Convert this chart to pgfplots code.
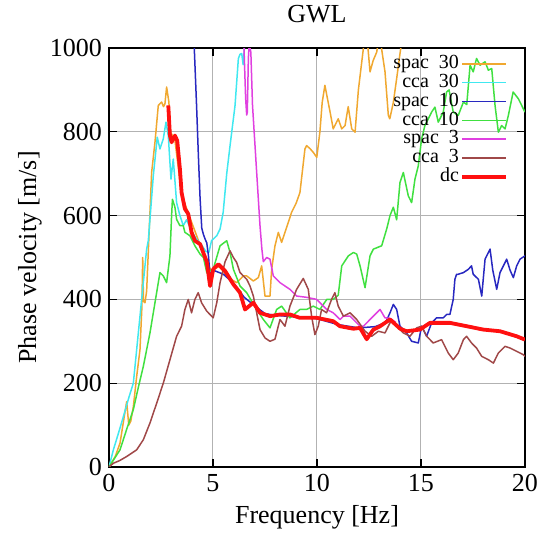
\documentclass[border=0pt]{standalone}
\usepackage{fontspec}
\setmainfont{Liberation Serif}
\usepackage{pgfplots}
\pgfplotsset{compat=1.18}

\definecolor{cspacA}{HTML}{F0A830}
\definecolor{ccca}{HTML}{40E8F0}
\definecolor{cspacB}{HTML}{2828C0}
\definecolor{cccaB}{HTML}{40E040}
\definecolor{cspacC}{HTML}{E040E0}
\definecolor{cccaC}{HTML}{A04848}
\definecolor{cdc}{HTML}{FF1010}

\begin{document}
\begin{tikzpicture}
\useasboundingbox (-54.5pt,-34.5pt) rectangle (222pt,233.5pt);
\begin{axis}[
  at={(0,0)}, anchor=south west,
  scale only axis,
  width=208pt, height=209.5pt,
  xmin=0, xmax=20, ymin=0, ymax=1000,
  xtick={0,5,10,15,20},
  ytick={0,200,400,600,800,1000},
  tick align=inside,
  major tick length=4pt,
  tick style={black, line width=0.6pt},
  grid=major,
  grid style={gray!60, line width=0.5pt},
  axis line style={black, line width=0.8pt},
  /pgf/number format/assume math mode=true,
  /pgf/number format/1000 sep={},
  ticklabel style={font=\fontsize{13}{15}\selectfont},
  label style={font=\fontsize{13}{15}\selectfont},
  xlabel={Frequency [Hz]},
  ylabel={Phase velocity [m/s]},
  xlabel style={at={(axis description cs:0.5,-0.12)}, anchor=center},
  ylabel style={at={(axis description cs:-0.19,0.5)}, anchor=center, rotate=0},
  title={GWL},
  every axis title shift=0pt,
  title style={at={(axis description cs:0.5,1.081)}, anchor=center, font=\fontsize{13}{15}\selectfont},
  legend plot pos=right,
  legend cell align=right,
  legend image code/.code={\draw[#1] (0pt,0pt) -- (22pt,0pt);},
  legend style={draw=none, fill=none, at={(axis description cs:0.96,0.985)}, anchor=north east,
    font=\fontsize{10}{11}\selectfont, row sep=0.2pt, inner sep=0pt,
    nodes={inner sep=0.6pt, text height=6.4pt, text depth=1.6pt}},
  every axis plot/.append style={line join=round},
]
% spac 30
\addplot[cspacA, line width=0.75pt] coordinates {
(0,0) (0.3,25) (0.53,57) (0.7,110) (0.85,156) (0.95,100) (1.05,110) (1.17,144)
(1.33,216) (1.49,280) (1.58,380) (1.62,500) (1.66,395) (1.73,392) (1.81,420)
(2.05,703) (2.21,775) (2.37,863) (2.53,871) (2.62,860) (2.69,867) (2.77,907)
(2.88,871) (2.95,800) (3.17,780) (3.49,650) (3.89,595) (4.38,530) (4.70,490)
(4.9,470) (5.3,478) (5.8,450) (6.14,440) (6.46,456) (6.62,456) (6.94,444)
(7.18,452) (7.34,480) (7.5,408) (7.74,408) (7.82,472) (7.98,528) (8.14,560)
(8.30,536) (8.46,560) (8.62,584) (8.78,608) (9.0,630) (9.18,655) (9.42,759)
(9.5,767) (9.66,760) (9.82,751) (9.99,739) (10.14,800) (10.25,870) (10.38,911)
(10.5,880) (10.63,847) (10.78,807) (11.02,831) (11.19,807) (11.35,815) (11.5,860)
(11.67,807) (11.83,799) (11.99,900) (12.23,999) (12.3,1030) (12.45,1000)
(12.55,943) (12.7,970) (12.87,990) (13.0,1030) (13.1,1000) (13.27,943)
(13.43,839) (13.5,831) (13.67,870) (13.83,927) (14.0,990) (14.15,1040)
};
\addlegendentry{spac\ \ 30}
% cca 30
\addplot[ccca, line width=0.75pt] coordinates {
(0,0) (0.21,41) (0.45,80) (0.69,120) (0.95,165) (1.17,200) (1.35,290) (1.49,360)
(1.65,440) (1.81,520) (1.89,540) (2.13,695) (2.32,787) (2.45,759) (2.61,783)
(2.74,823) (2.85,791) (2.98,687) (3.09,735) (3.25,631) (3.41,600) (3.57,576)
(3.73,590) (4.0,560) (4.21,544) (4.45,530) (4.65,515) (4.8,512) (4.93,540)
(5.18,552) (5.34,568) (5.49,608) (5.66,700) (5.82,767) (6.06,863) (6.22,975)
(6.30,985) (6.38,987) (6.45,960) (6.54,1020)
};
\addlegendentry{cca\ \ 30}
% spac 10
\addplot[cspacB, line width=0.75pt] coordinates {
(4.05,1050) (4.10,1000) (4.21,863) (4.3,740) (4.38,640) (4.46,570) (4.54,555)
(4.62,544) (4.70,535) (4.78,505) (4.86,456) (5.0,470) (5.5,460) (6.0,438)
(6.5,405) (7.0,385) (7.5,366) (8.0,362) (9.0,358) (10.0,354) (11.0,340)
(12.0,332) (12.8,335) (13.3,345) (13.51,368) (13.67,388) (13.83,376) (13.99,336)
(14.31,320) (14.55,300) (14.87,296) (15.03,336) (15.27,312) (15.51,344)
(15.75,356) (16.07,356) (16.23,364) (16.39,364) (16.55,400) (16.63,448)
(16.71,460) (16.79,460) (17.04,464) (17.28,472) (17.43,480) (17.51,460)
(17.76,448) (17.92,408) (18.08,496) (18.32,520) (18.45,470) (18.64,424)
(18.8,464) (19.12,496) (19.28,470) (19.44,452) (19.6,480) (19.76,496) (20,504)
};
\addlegendentry{spac\ \ 10}
% cca 10
\addplot[cccaB, line width=0.75pt] coordinates {
(0,0) (0.53,41) (0.85,90) (1.17,137) (1.41,190) (1.65,240) (1.97,320) (2.29,416)
(2.45,464) (2.61,456) (2.77,440) (2.93,504) (3.01,600) (3.05,639) (3.17,620)
(3.25,591) (3.41,576) (3.57,576) (3.65,560) (3.89,552) (4.13,528) (4.38,508)
(4.54,500) (4.70,464) (5.01,472) (5.34,528) (5.66,540) (5.82,512) (5.98,472)
(6.30,432) (6.62,416) (7.10,376) (7.42,352) (7.74,332) (8.06,376) (8.30,384)
(8.70,356) (9.18,376) (9.50,376) (9.82,384) (10.14,376) (10.47,400) (10.78,400)
(11.02,410) (11.19,480) (11.51,504) (11.75,512) (11.91,508) (12.07,480)
(12.31,428) (12.55,504) (12.71,520) (13.11,528) (13.35,568) (13.51,600)
(13.67,620) (13.83,590) (13.99,679) (14.15,703) (14.39,647) (14.55,631)
(14.71,687) (14.87,719) (15.03,783) (15.19,815) (15.35,831) (15.51,847)
(15.67,859) (15.83,823) (16.07,847) (16.23,895) (16.35,900) (16.55,847)
(16.79,839) (17.04,871) (17.2,865) (17.36,959) (17.51,943) (17.67,975)
(17.84,959) (18.08,967) (18.24,947) (18.4,951) (18.56,863) (18.72,799)
(18.88,815) (19.04,807) (19.2,839) (19.43,895) (19.68,879) (19.92,855) (20,847)
};
\addlegendentry{cca\ \ 10}
% spac 3
\addplot[cspacC, line width=0.75pt] coordinates {
(6.40,1050) (6.49,1000) (6.57,879) (6.62,840) (6.65,847) (6.70,975) (6.74,1010)
(6.82,990) (6.90,863) (7.10,703) (7.26,576) (7.35,520) (7.42,490) (7.58,500)
(7.74,496) (7.90,456) (8.22,440) (8.70,424) (9.02,408) (9.5,405) (9.98,400)
(10.47,376) (10.78,368) (11.11,352) (11.27,360) (11.59,360) (11.75,352)
(12.07,336) (12.23,336) (12.55,352) (12.71,360) (12.95,372) (13.03,376)
(13.27,356) (13.51,355) (13.8,345)
};
\addlegendentry{spac\ \ 3}
% cca 3
\addplot[cccaC, line width=0.75pt] coordinates {
(0,0) (0.21,9) (0.5,15) (0.85,25) (1.33,41) (1.65,65) (1.97,105) (2.29,152)
(2.61,200) (2.93,256) (3.25,312) (3.49,336) (3.65,376) (3.81,400) (3.97,368)
(4.13,400) (4.29,416) (4.45,392) (4.70,372) (5.01,356) (5.18,392) (5.34,440)
(5.58,490) (5.82,516) (5.98,500) (6.14,488) (6.30,464) (6.62,448) (6.78,432)
(6.94,408) (7.10,368) (7.26,328) (7.50,308) (7.74,300) (7.98,305) (8.22,352)
(8.46,336) (8.70,384) (9.02,424) (9.34,450) (9.58,424) (9.74,360) (9.90,316)
(10.06,336) (10.22,376) (10.46,368) (10.70,400) (10.86,416) (11.02,384)
(11.27,360) (11.59,368) (11.91,352) (12.31,324) (12.63,312) (12.95,324)
(13.27,320) (13.59,352) (13.83,336) (14.15,320) (14.47,312) (14.79,332)
(15.03,336) (15.27,312) (15.59,296) (15.99,304) (16.31,272) (16.55,256)
(16.79,272) (17.04,304) (17.19,312) (17.43,296) (17.67,284) (17.92,264)
(18.24,256) (18.48,248) (18.72,272) (19.04,288) (19.28,284) (19.6,276)
(19.92,268) (20,264)
};
\addlegendentry{cca\ \ 3}
% dc
\addplot[cdc, line width=1.9pt] coordinates {
(2.85,863) (2.93,791) (3.01,775) (3.17,791) (3.28,779) (3.41,711) (3.49,655)
(3.65,616) (3.81,604) (3.97,560) (4.13,540) (4.38,532) (4.53,512) (4.70,490)
(4.86,432) (5.01,472) (5.26,484) (5.58,468) (5.98,436) (6.30,416) (6.54,376)
(6.94,392) (7.26,368) (7.74,360) (8.22,364) (8.70,364) (9.18,356) (9.99,356)
(10.78,348) (11.1,336) (11.75,330) (12.07,332) (12.39,305) (12.71,328)
(13.0,335) (13.51,352) (14.0,330) (14.31,324) (14.95,328) (15.43,344)
(16.39,344) (17.20,336) (17.99,328) (18.80,324) (19.60,312) (20.0,304)
};
\addlegendentry{dc}
\end{axis}
\end{tikzpicture}
\end{document}
